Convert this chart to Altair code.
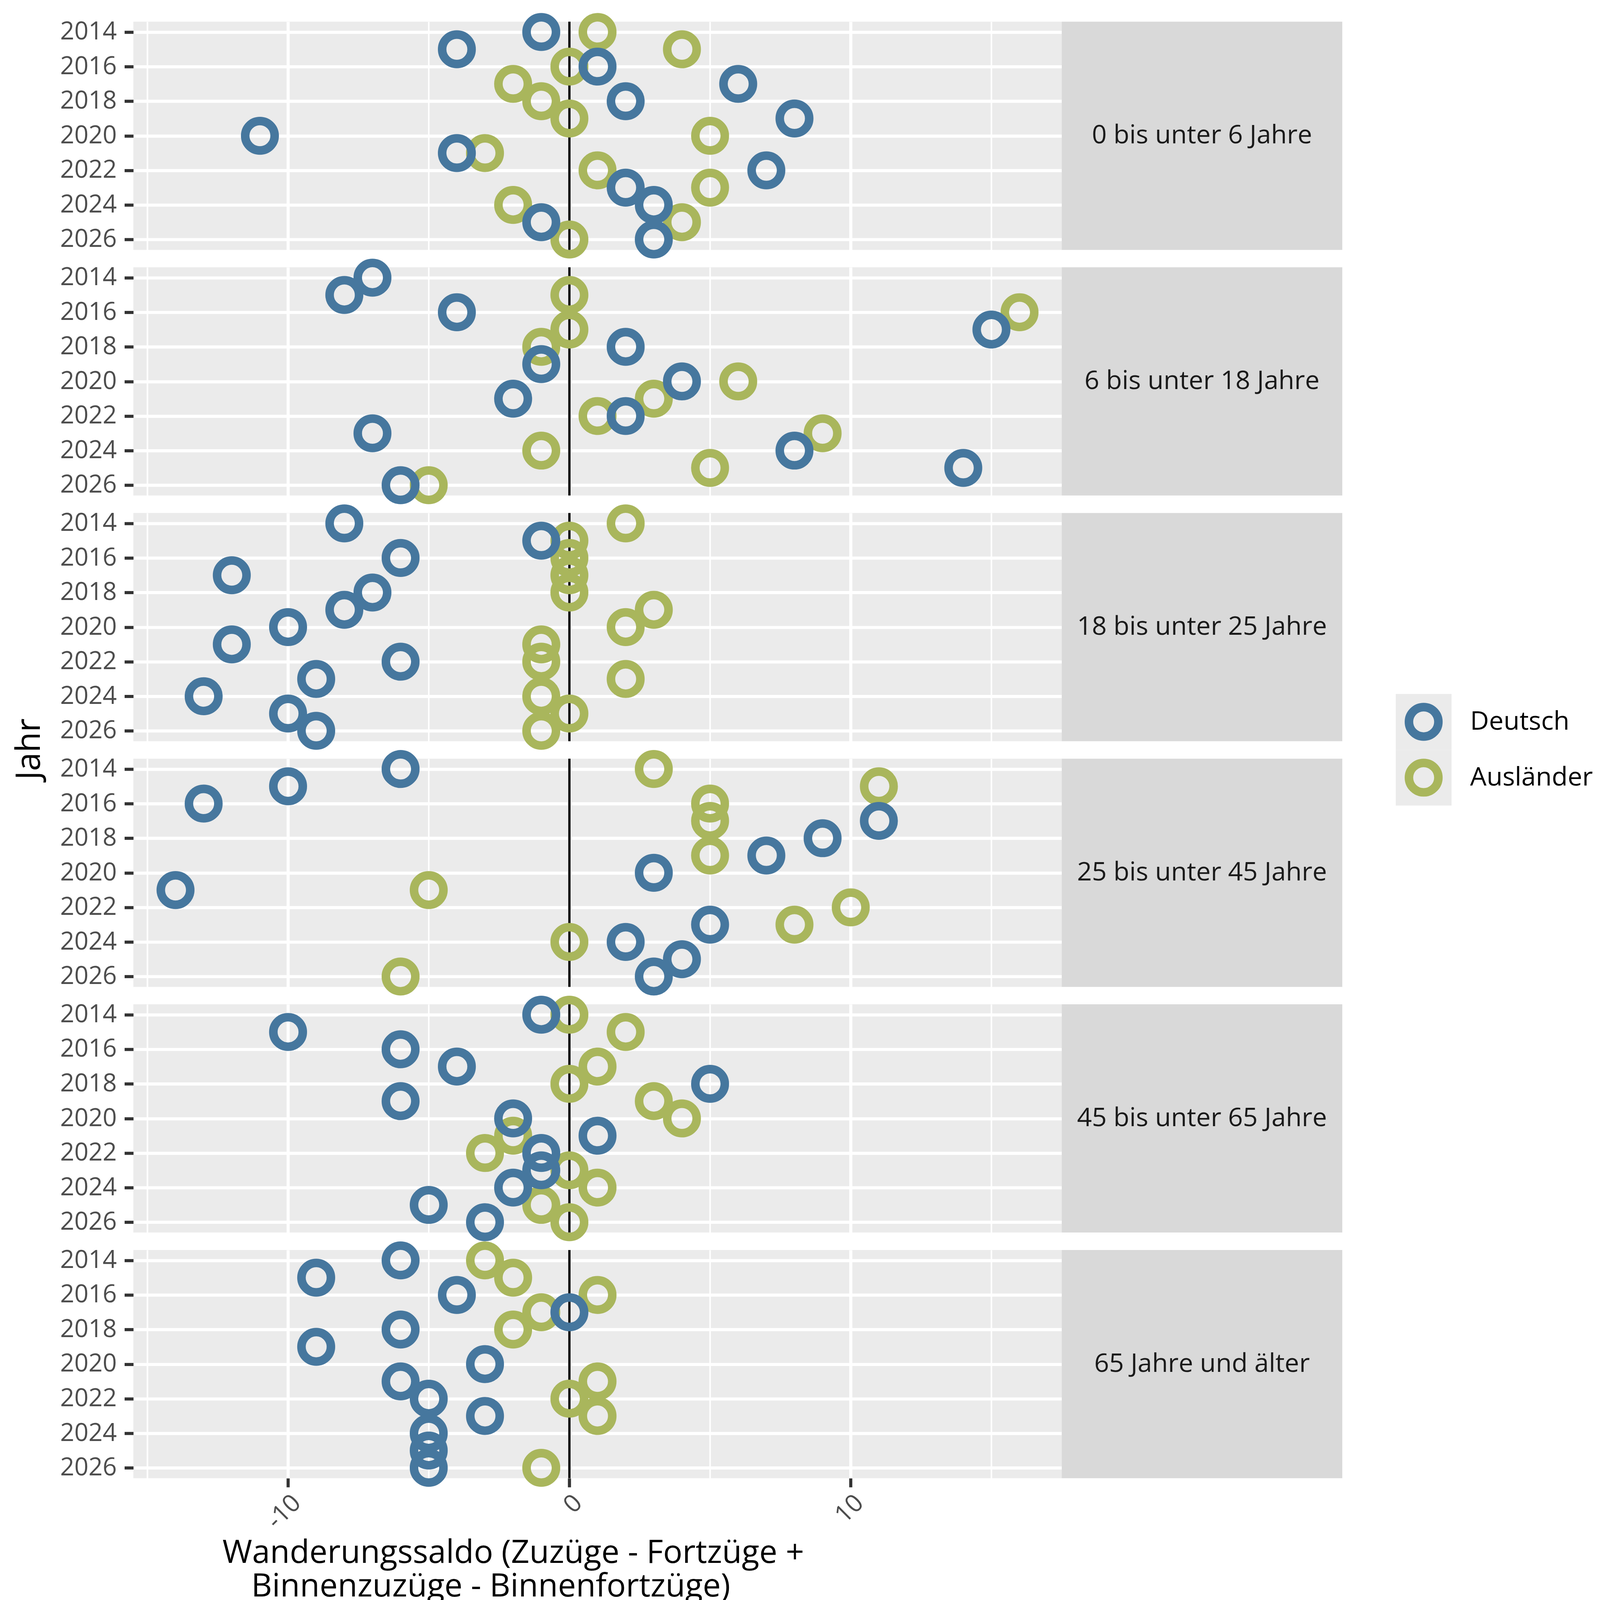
import altair as alt
import pandas as pd

FONT = "Open Sans"

years = [2014, 2015, 2016, 2017, 2018, 2019, 2020, 2021, 2022, 2023, 2024, 2025, 2026]
groups = ["Deutsch", "Ausländer"]
colors = ["#46779E", "#A9B65C"]
age_groups = [
    "0 bis unter 6 Jahre",
    "6 bis unter 18 Jahre",
    "18 bis unter 25 Jahre",
    "25 bis unter 45 Jahre",
    "45 bis unter 65 Jahre",
    "65 Jahre und älter",
]

deutsch_0_6 = [-1, -4, 1, 6, 2, 8, -11, -4, 7, 2, 3, -1, 3]
auslaender_0_6 = [1, 4, 0, -2, -1, 0, 5, -3, 1, 5, -2, 4, 0]
deutsch_6_18 = [-7, -8, -4, 15, 2, -1, 4, -2, 2, -7, 8, 14, -6]
auslaender_6_18 = [None, 0, 16, 0, -1, None, 6, 3, 1, 9, -1, 5, -5]
deutsch_18_25 = [-8, -1, -6, -12, -7, -8, -10, -12, -6, -9, -13, -10, -9]
auslaender_18_25 = [2, 0, 0, 0, 0, 3, 2, -1, -1, 2, -1, 0, -1]
deutsch_25_45 = [-6, -10, -13, 11, 9, 7, 3, -14, None, 5, 2, 4, 3]
auslaender_25_45 = [3, 11, 5, 5, None, 5, None, -5, 10, 8, 0, None, -6]
deutsch_45_65 = [-1, -10, -6, -4, 5, -6, -2, 1, -1, -1, -2, -5, -3]
auslaender_45_65 = [0, 2, None, 1, 0, 3, 4, -2, -3, 0, 1, -1, 0]
deutsch_65 = [-6, -9, -4, 0, -6, -9, -3, -6, -5, -3, -5, -5, -5]
auslaender_65 = [-3, -2, 1, -1, -2, None, None, 1, 0, 1, None, None, -1]

series = {
    age_groups[0]: (deutsch_0_6, auslaender_0_6),
    age_groups[1]: (deutsch_6_18, auslaender_6_18),
    age_groups[2]: (deutsch_18_25, auslaender_18_25),
    age_groups[3]: (deutsch_25_45, auslaender_25_45),
    age_groups[4]: (deutsch_45_65, auslaender_45_65),
    age_groups[5]: (deutsch_65, auslaender_65),
}

x_grid_values = [-15, -10, -5, 0, 5, 10, 15]
y_tick_values = [2014, 2016, 2018, 2020, 2022, 2024, 2026]
x_title_line1 = "Wanderungssaldo (Zuzüge - Fortzüge +"
x_title_line2 = "Binnenzuzüge - Binnenfortzüge)"

rows = []
for ag, (de, au) in series.items():
    # Ausländer first so that Deutsch is drawn on top
    for grp, vals in (("Ausländer", au), ("Deutsch", de)):
        for yr, v in zip(years, vals):
            if v is not None:
                rows.append({"Altersgruppe": ag, "Jahr": yr, "Staatsangehörigkeit": grp, "Saldo": v})
df = pd.DataFrame(rows)
df["draw"] = range(len(df))

W, H = 2396, 589
STRIP_W = 724
LEG_W = 282
PT_SIZE = 5776
PT_STROKE = 22
ROW_GAP = 45

xscale = alt.Scale(domain=[-15.5, 17.5], nice=False, zero=False)
yscale = alt.Scale(domain=[2013.4, 2026.6], reverse=True, nice=False, zero=False)
cscale = alt.Scale(domain=groups, range=colors)

grid_w = {"condition": {"test": "datum.value % 10 === 0", "value": 8}, "value": 4}
tick_op = {"condition": {"test": "datum.value % 10 === 0", "value": 1}, "value": 0}


def x_axis_plain():
    return alt.Axis(
        values=x_grid_values, grid=True, gridColor="white", gridWidth=grid_w,
        domain=False, ticks=False, labels=False, title=None,
    )


x_axis_bottom = alt.Axis(
    orient="bottom",
    values=x_grid_values, grid=True, gridColor="white", gridWidth=grid_w,
    domain=False, ticks=True, tickSize=23, tickWidth=8, tickColor="#333333",
    tickOpacity=tick_op,
    labelExpr="datum.value % 10 === 0 ? '' + datum.value : ''",
    labelAngle=-45, labelAlign="right", labelBaseline="top", labelPadding=8,
    labelFontSize=64, labelColor="#4D4D4D", labelFont=FONT,
    title=x_title_line1, titleFontSize=83, titleFontWeight="normal", titleColor="black",
    titleFont=FONT, titleX=980, titleY=218, titleAlign="center",
    titleBaseline="alphabetic", titleAngle=0,
)

x_axis_line2 = alt.Axis(
    orient="bottom",
    values=x_grid_values, grid=False, domain=False, ticks=False, labels=False,
    title=x_title_line2, titleFontSize=83, titleFontWeight="normal", titleColor="black",
    titleFont=FONT, titleX=922, titleY=305, titleAlign="center",
    titleBaseline="alphabetic", titleAngle=0,
)


def y_axis(with_title):
    kw = dict(
        values=y_tick_values, format="d", grid=True, gridColor="white", gridWidth=8,
        domain=False, ticks=True, tickSize=23, tickWidth=8, tickColor="#333333",
        labelFontSize=64, labelColor="#4D4D4D", labelFont=FONT, labelPadding=20,
    )
    if with_title:
        kw.update(
            title="Jahr", titleFontSize=86, titleFontWeight="normal", titleColor="black",
            titleFont=FONT, titleAngle=-90, titleX=-268, titleY=609,
            titleAlign="center", titleBaseline="middle",
        )
    else:
        kw.update(title=None)
    return alt.Axis(**kw)


zero_df = pd.DataFrame({"x": [0]})

# legend (drawn through band scales, placed next to the third row)
leg_df = pd.DataFrame({"Staatsangehörigkeit": groups, "k": ["key", "key"]})
yband = alt.Scale(type="band", domain=groups, range=[467, 755], paddingInner=0, paddingOuter=0)
xband = alt.Scale(type="band", domain=["key"], range=[138, 282], paddingInner=0, paddingOuter=0)
leg_base = alt.Chart(leg_df)
leg_y = alt.Y("Staatsangehörigkeit:N", scale=yband, axis=None, sort=groups)
leg_x = alt.X("k:N", scale=xband, axis=None)
leg_rect = leg_base.mark_rect(color="#EBEBEB").encode(x=leg_x, y=leg_y)
leg_pts = leg_base.mark_point(
    filled=False, opacity=1, size=PT_SIZE, strokeWidth=PT_STROKE
).encode(
    x=leg_x, y=leg_y,
    color=alt.Color("Staatsangehörigkeit:N", scale=cscale, legend=None),
)
leg_txt = leg_base.mark_text(
    align="left", baseline="middle", dx=120, font=FONT, fontSize=67, color="black"
).encode(x=leg_x, y=leg_y, text="Staatsangehörigkeit:N")
legend = alt.layer(leg_rect, leg_pts, leg_txt).properties(
    width=LEG_W, height=H, view=alt.ViewBackground(fill=None, stroke=None)
)

cells = []
for i, ag in enumerate(age_groups):
    last = i == len(age_groups) - 1
    d = df[df["Altersgruppe"] == ag]
    rule = alt.Chart(zero_df).mark_rule(color="black", strokeWidth=6).encode(
        x=alt.X("x:Q", scale=xscale, axis=x_axis_line2 if last else x_axis_plain())
    )
    pts = alt.Chart(d).mark_point(
        filled=False, opacity=1, size=PT_SIZE, strokeWidth=PT_STROKE
    ).encode(
        x=alt.X("Saldo:Q", scale=xscale, axis=x_axis_bottom if last else x_axis_plain()),
        y=alt.Y("Jahr:Q", scale=yscale, axis=y_axis(i == 2)),
        color=alt.Color("Staatsangehörigkeit:N", scale=cscale, legend=None),
        order=alt.Order("draw:Q"),
    )
    panel = alt.layer(rule, pts).properties(
        width=W, height=H, view=alt.ViewBackground(fill="#EBEBEB", stroke=None)
    )
    if last:
        panel = panel.resolve_axis(x="independent")
    strip = alt.Chart(pd.DataFrame({"Altersgruppe": [ag]})).mark_text(
        font=FONT, fontSize=67, color="#1A1A1A"
    ).encode(text="Altersgruppe:N").properties(
        width=STRIP_W, height=H, view=alt.ViewBackground(fill="#D9D9D9", stroke=None)
    )
    if i == 2:
        extra = legend
    else:
        extra = alt.Chart(pd.DataFrame({"Staatsangehörigkeit": []})).mark_point(
            opacity=0
        ).properties(width=LEG_W, height=H, view=alt.ViewBackground(fill=None, stroke=None))
    cells += [panel, strip, extra]

chart = alt.concat(
    *cells, columns=3, spacing={"row": ROW_GAP, "column": 0}, bounds="flush"
).properties(
    padding={"left": 25, "top": -25, "right": 10, "bottom": 40}
).configure(font=FONT).configure_view(stroke=None)

chart.save("out.html", embed_options={"renderer": "svg", "actions": False})
